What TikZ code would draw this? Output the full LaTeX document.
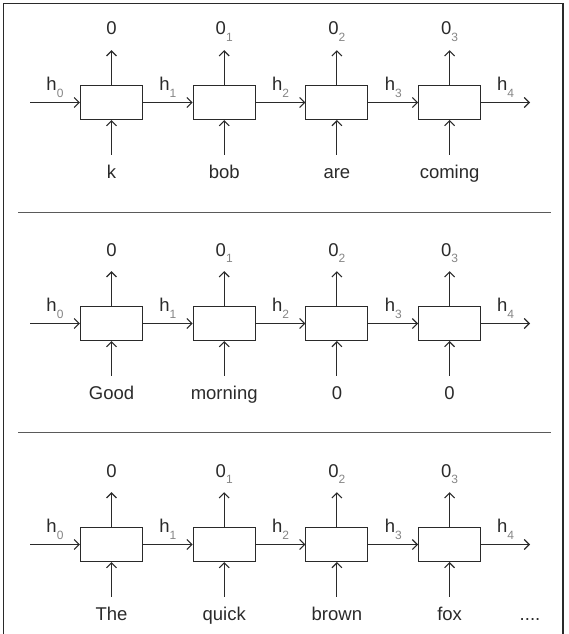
\documentclass[tikz,border=0pt]{standalone}
\usepackage{fontspec}
\setmainfont{Liberation Sans}
\usetikzlibrary{arrows.meta}

\definecolor{inkgray}{HTML}{2A2A2A}
\definecolor{subgray}{HTML}{858585}
\definecolor{rulegray}{HTML}{5A5A5A}

% small grey index below the baseline
\newcommand{\idx}[1]{\raisebox{-6.5pt}{\fontsize{12}{12}\selectfont\color{subgray}#1}}

\begin{document}
\begin{tikzpicture}[
	x=1pt, y=-1pt,
	every node/.style={font=\fontsize{18.5}{20}\selectfont, text=inkgray,
		inner sep=3pt, text height=13pt, text depth=4pt},
	cell/.style={draw=inkgray, line width=1.1pt, minimum width=62pt,
		minimum height=34pt, inner sep=0pt},
	flow/.style={draw=inkgray, line width=1.1pt,
		-{Straight Barb[length=5pt,width=10pt]}},
	hlab/.style={midway, anchor=base, yshift=12pt}
	]
	\useasboundingbox (0,0) rectangle (569,634);

	% outer frame, open at the bottom
	\draw[inkgray, line width=1.5pt] (3.5,634) -- (3.5,3.5) -- (563,3.5) -- (563,634);

	% separators between the three sequences
	\draw[rulegray, line width=1pt] (18,212.5) -- (551,212.5);
	\draw[rulegray, line width=1pt] (18,432.5) -- (551,432.5);

	\foreach \r/\words in {0/{k,bob,are,coming}, 1/{Good,morning,0,0}, 2/{The,quick,brown,fox}} {
		\begin{scope}[shift={(0,{221*\r})}]
			\coordinate (start\r) at (30,102.5);
			\coordinate (end\r) at (530,102.5);

			\foreach \w [count=\i from 0] in \words {
				\node[cell] (c\r\i) at ({111.5+112.7*\i},102.5) {};
				\node[anchor=base] (in\r\i) at ({111.5+112.7*\i},178) {\w};
				\node[anchor=base] (out\r\i) at ({111.5+112.7*\i},35) {0\ifnum\i>0 \idx{\i}\fi};
				\draw[flow, shorten <=7pt] (in\r\i.north) -- (c\r\i.south);
				\draw[flow, shorten >=8pt] (c\r\i.north) -- (out\r\i.south);
			}

			\draw[flow] (start\r) -- (c\r0.west) node[hlab] {h\idx{0}};
			\foreach \i [remember=\i as \p (initially 0)] in {1,2,3}
				\draw[flow] (c\r\p.east) -- (c\r\i.west) node[hlab] {h\idx{\i}};
			\draw[flow] (c\r3.east) -- (end\r) node[hlab] {h\idx{4}};
		\end{scope}
	}

	\node[anchor=base] (more) at (530,620) {....};

\end{tikzpicture}
\end{document}
